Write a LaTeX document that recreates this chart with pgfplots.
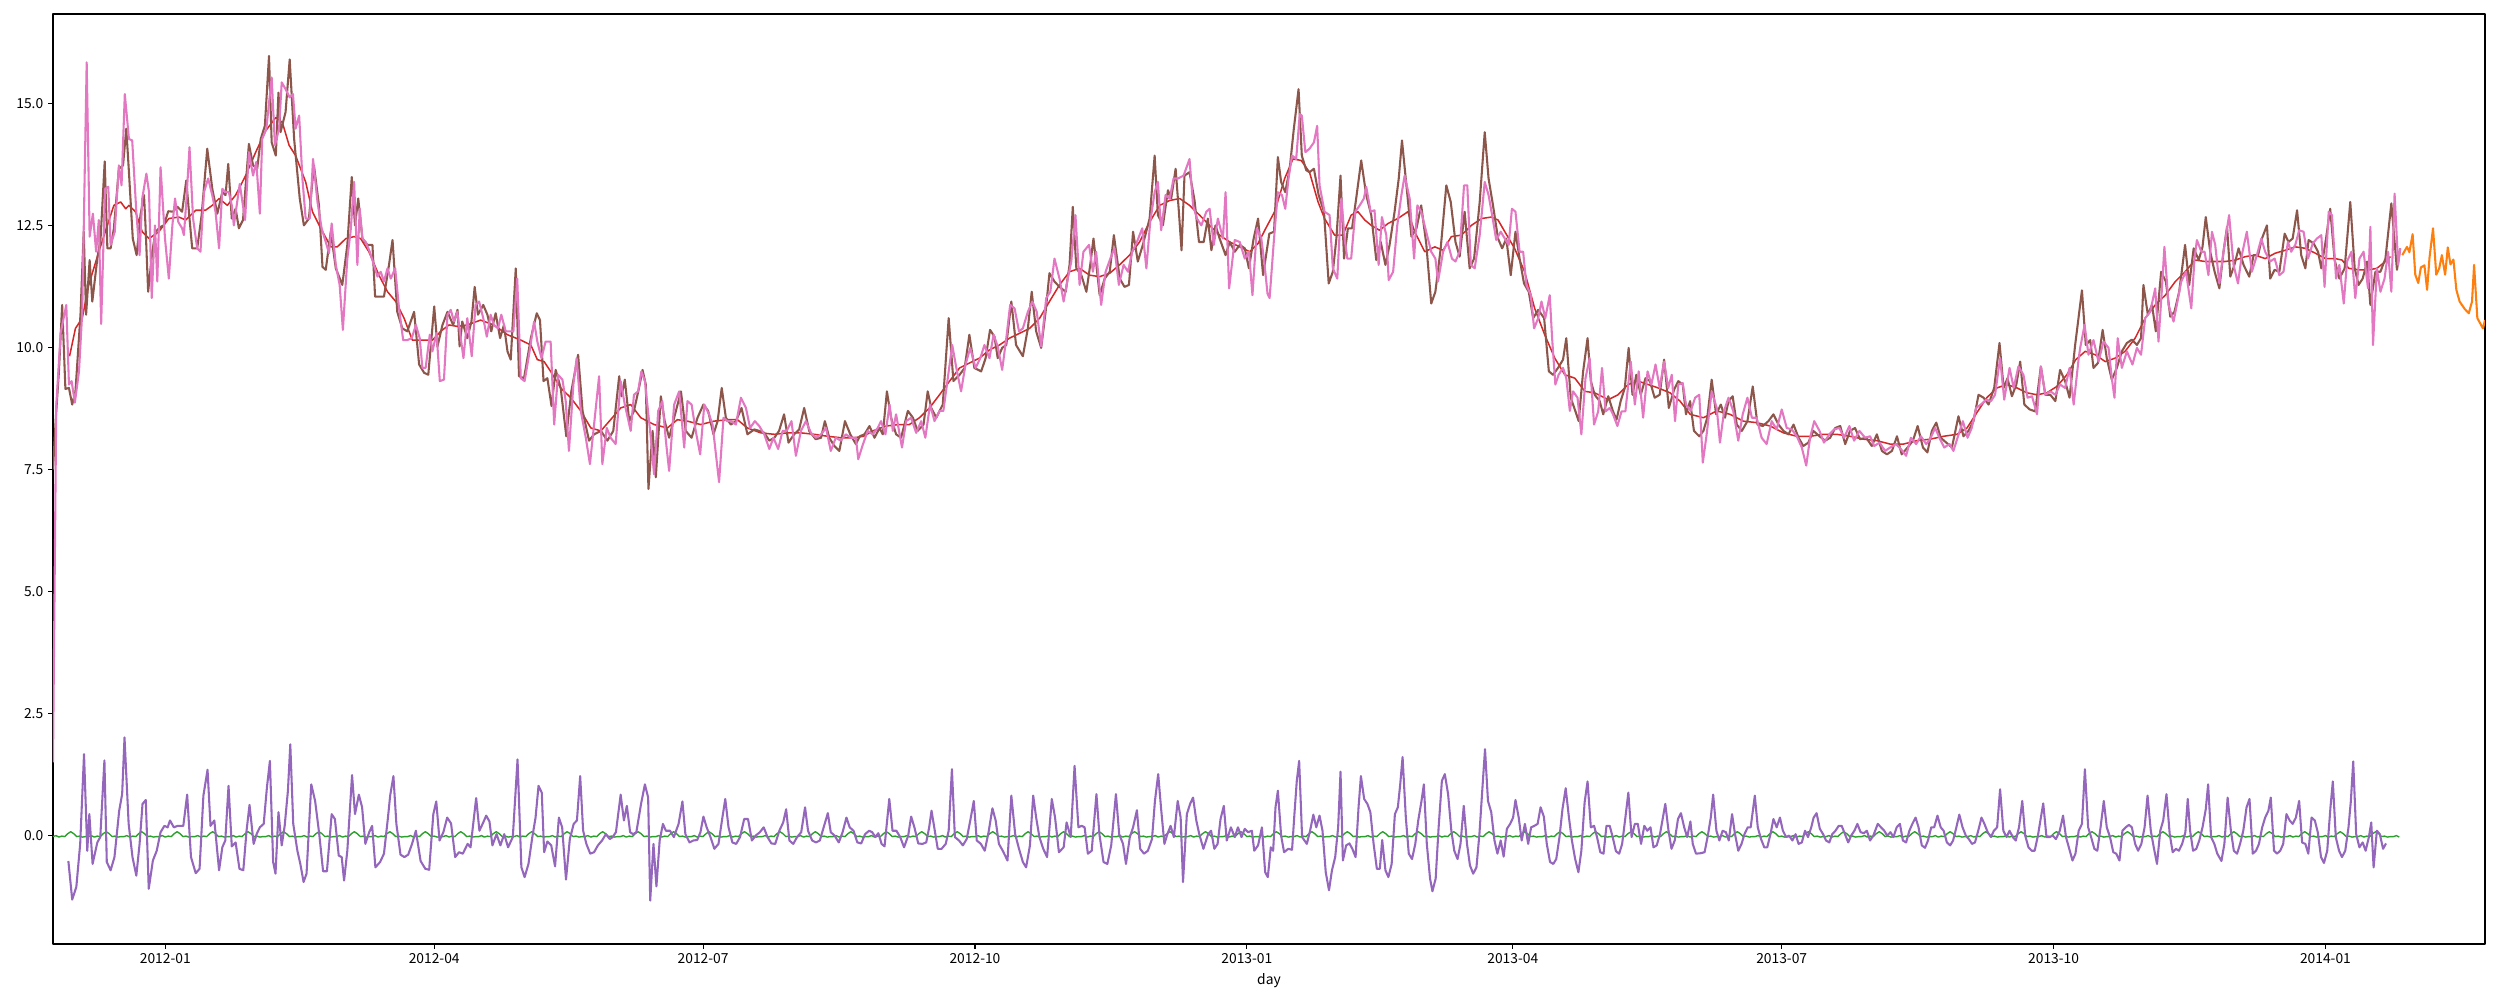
\documentclass[border=0pt]{standalone}
\usepackage{fontspec}
\setmainfont{Noto Sans CJK SC}
\usepackage{pgfplots}
\pgfplotsset{compat=1.18}
\usetikzlibrary{calc}
\definecolor{mbrown}{HTML}{8C564B}
\definecolor{mpink}{HTML}{E377C2}
\definecolor{mred}{HTML}{D62728}
\definecolor{mpurple}{HTML}{9467BD}
\definecolor{mgreen}{HTML}{2CA02C}
\definecolor{morange}{HTML}{FF7F0E}
\begin{document}
\begin{tikzpicture}
\begin{axis}[name=ax, scale only axis, width=24.32in, height=9.30in,
  xmin=-38, xmax=785, ymin=-2.22, ymax=16.83,
  axis line style={line width=0.8pt, black},
  tick style={line width=0.8pt, black}, major tick length=3.5pt, tick align=outside,
  xtick pos=bottom, ytick pos=left,
  xtick={0,91,182,274,366,456,547,639,731},
  xticklabels={2012-01,2012-04,2012-07,2012-10,2013-01,2013-04,2013-07,2013-10,2014-01},
  ytick={0,2.5,5,7.5,10,12.5,15},
  yticklabel style={/pgf/number format/.cd, fixed, fixed zerofill, precision=1},
  /pgf/number format/assume math mode=true,
  tick label style={font=\fontsize{10}{12}\selectfont},
  xlabel={day}, xlabel style={font=\fontsize{10}{12}\selectfont},
  line join=round, every axis plot/.append style={line join=round}]
% forecast
\addplot[morange, line width=1.5pt] coordinates {
(757,11.89) (758.6,12.06) (759.4,11.95) (760.5,12.32) (761.4,11.49) (762.4,11.32) (763.3,11.64) (764.5,11.68) (765.4,11.18) (766.2,11.83) (767.4,12.44) (768.5,11.49) (769.5,11.62) (770.4,11.89) (771.5,11.49) (772.4,12.05) (773.3,11.7) (774.3,11.8) (775.3,11.18) (776.4,10.94) (778.1,10.79) (779.5,10.7) (780.6,10.94) (781.3,11.69) (782.4,10.6) (784.3,10.39) (785,10.56)};
% seasonal
\addplot[mgreen, line width=1pt] table[row sep=\\, header=false, x expr=\coordindex-38, y index=0] {
-0.02\\0\\-0.03\\-0.01\\-0.02\\0.04\\0.08\\0.04\\-0.02\\-0.01\\-0.03\\-0.02\\
-0.02\\0\\-0.03\\-0.01\\-0.02\\0.04\\0.08\\0.04\\-0.02\\-0.01\\-0.03\\-0.02\\
-0.02\\0\\-0.03\\-0.01\\-0.02\\0.04\\0.08\\0.04\\-0.02\\-0.01\\-0.03\\-0.02\\
-0.02\\0\\-0.03\\-0.01\\-0.02\\0.04\\0.08\\0.04\\-0.02\\-0.01\\-0.03\\-0.02\\
-0.02\\0\\-0.03\\-0.01\\-0.02\\0.04\\0.08\\0.04\\-0.02\\-0.01\\-0.03\\-0.02\\
-0.02\\0\\-0.03\\-0.01\\-0.02\\0.04\\0.08\\0.04\\-0.02\\-0.01\\-0.03\\-0.02\\
-0.02\\0\\-0.03\\-0.01\\-0.02\\0.04\\0.08\\0.04\\-0.02\\-0.01\\-0.03\\-0.02\\
-0.02\\0\\-0.03\\-0.01\\-0.02\\0.04\\0.08\\0.04\\-0.02\\-0.01\\-0.03\\-0.02\\
-0.02\\0\\-0.03\\-0.01\\-0.02\\0.04\\0.08\\0.04\\-0.02\\-0.01\\-0.03\\-0.02\\
-0.02\\0\\-0.03\\-0.01\\-0.02\\0.04\\0.08\\0.04\\-0.02\\-0.01\\-0.03\\-0.02\\
-0.02\\0\\-0.03\\-0.01\\-0.02\\0.04\\0.08\\0.04\\-0.02\\-0.01\\-0.03\\-0.02\\
-0.02\\0\\-0.03\\-0.01\\-0.02\\0.04\\0.08\\0.04\\-0.02\\-0.01\\-0.03\\-0.02\\
-0.02\\0\\-0.03\\-0.01\\-0.02\\0.04\\0.08\\0.04\\-0.02\\-0.01\\-0.03\\-0.02\\
-0.02\\0\\-0.03\\-0.01\\-0.02\\0.04\\0.08\\0.04\\-0.02\\-0.01\\-0.03\\-0.02\\
-0.02\\0\\-0.03\\-0.01\\-0.02\\0.04\\0.08\\0.04\\-0.02\\-0.01\\-0.03\\-0.02\\
-0.02\\0\\-0.03\\-0.01\\-0.02\\0.04\\0.08\\0.04\\-0.02\\-0.01\\-0.03\\-0.02\\
-0.02\\0\\-0.03\\-0.01\\-0.02\\0.04\\0.08\\0.04\\-0.02\\-0.01\\-0.03\\-0.02\\
-0.02\\0\\-0.03\\-0.01\\-0.02\\0.04\\0.08\\0.04\\-0.02\\-0.01\\-0.03\\-0.02\\
-0.02\\0\\-0.03\\-0.01\\-0.02\\0.04\\0.08\\0.04\\-0.02\\-0.01\\-0.03\\-0.02\\
-0.02\\0\\-0.03\\-0.01\\-0.02\\0.04\\0.08\\0.04\\-0.02\\-0.01\\-0.03\\-0.02\\
-0.02\\0\\-0.03\\-0.01\\-0.02\\0.04\\0.08\\0.04\\-0.02\\-0.01\\-0.03\\-0.02\\
-0.02\\0\\-0.03\\-0.01\\-0.02\\0.04\\0.08\\0.04\\-0.02\\-0.01\\-0.03\\-0.02\\
-0.02\\0\\-0.03\\-0.01\\-0.02\\0.04\\0.08\\0.04\\-0.02\\-0.01\\-0.03\\-0.02\\
-0.02\\0\\-0.03\\-0.01\\-0.02\\0.04\\0.08\\0.04\\-0.02\\-0.01\\-0.03\\-0.02\\
-0.02\\0\\-0.03\\-0.01\\-0.02\\0.04\\0.08\\0.04\\-0.02\\-0.01\\-0.03\\-0.02\\
-0.02\\0\\-0.03\\-0.01\\-0.02\\0.04\\0.08\\0.04\\-0.02\\-0.01\\-0.03\\-0.02\\
-0.02\\0\\-0.03\\-0.01\\-0.02\\0.04\\0.08\\0.04\\-0.02\\-0.01\\-0.03\\-0.02\\
-0.02\\0\\-0.03\\-0.01\\-0.02\\0.04\\0.08\\0.04\\-0.02\\-0.01\\-0.03\\-0.02\\
-0.02\\0\\-0.03\\-0.01\\-0.02\\0.04\\0.08\\0.04\\-0.02\\-0.01\\-0.03\\-0.02\\
-0.02\\0\\-0.03\\-0.01\\-0.02\\0.04\\0.08\\0.04\\-0.02\\-0.01\\-0.03\\-0.02\\
-0.02\\0\\-0.03\\-0.01\\-0.02\\0.04\\0.08\\0.04\\-0.02\\-0.01\\-0.03\\-0.02\\
-0.02\\0\\-0.03\\-0.01\\-0.02\\0.04\\0.08\\0.04\\-0.02\\-0.01\\-0.03\\-0.02\\
-0.02\\0\\-0.03\\-0.01\\-0.02\\0.04\\0.08\\0.04\\-0.02\\-0.01\\-0.03\\-0.02\\
-0.02\\0\\-0.03\\-0.01\\-0.02\\0.04\\0.08\\0.04\\-0.02\\-0.01\\-0.03\\-0.02\\
-0.02\\0\\-0.03\\-0.01\\-0.02\\0.04\\0.08\\0.04\\-0.02\\-0.01\\-0.03\\-0.02\\
-0.02\\0\\-0.03\\-0.01\\-0.02\\0.04\\0.08\\0.04\\-0.02\\-0.01\\-0.03\\-0.02\\
-0.02\\0\\-0.03\\-0.01\\-0.02\\0.04\\0.08\\0.04\\-0.02\\-0.01\\-0.03\\-0.02\\
-0.02\\0\\-0.03\\-0.01\\-0.02\\0.04\\0.08\\0.04\\-0.02\\-0.01\\-0.03\\-0.02\\
-0.02\\0\\-0.03\\-0.01\\-0.02\\0.04\\0.08\\0.04\\-0.02\\-0.01\\-0.03\\-0.02\\
-0.02\\0\\-0.03\\-0.01\\-0.02\\0.04\\0.08\\0.04\\-0.02\\-0.01\\-0.03\\-0.02\\
-0.02\\0\\-0.03\\-0.01\\-0.02\\0.04\\0.08\\0.04\\-0.02\\-0.01\\-0.03\\-0.02\\
-0.02\\0\\-0.03\\-0.01\\-0.02\\0.04\\0.08\\0.04\\-0.02\\-0.01\\-0.03\\-0.02\\
-0.02\\0\\-0.03\\-0.01\\-0.02\\0.04\\0.08\\0.04\\-0.02\\-0.01\\-0.03\\-0.02\\
-0.02\\0\\-0.03\\-0.01\\-0.02\\0.04\\0.08\\0.04\\-0.02\\-0.01\\-0.03\\-0.02\\
-0.02\\0\\-0.03\\-0.01\\-0.02\\0.04\\0.08\\0.04\\-0.02\\-0.01\\-0.03\\-0.02\\
-0.02\\0\\-0.03\\-0.01\\-0.02\\0.04\\0.08\\0.04\\-0.02\\-0.01\\-0.03\\-0.02\\
-0.02\\0\\-0.03\\-0.01\\-0.02\\0.04\\0.08\\0.04\\-0.02\\-0.01\\-0.03\\-0.02\\
-0.02\\0\\-0.03\\-0.01\\-0.02\\0.04\\0.08\\0.04\\-0.02\\-0.01\\-0.03\\-0.02\\
-0.02\\0\\-0.03\\-0.01\\-0.02\\0.04\\0.08\\0.04\\-0.02\\-0.01\\-0.03\\-0.02\\
-0.02\\0\\-0.03\\-0.01\\-0.02\\0.04\\0.08\\0.04\\-0.02\\-0.01\\-0.03\\-0.02\\
-0.02\\0\\-0.03\\-0.01\\-0.02\\0.04\\0.08\\0.04\\-0.02\\-0.01\\-0.03\\-0.02\\
-0.02\\0\\-0.03\\-0.01\\-0.02\\0.04\\0.08\\0.04\\-0.02\\-0.01\\-0.03\\-0.02\\
-0.02\\0\\-0.03\\-0.01\\-0.02\\0.04\\0.08\\0.04\\-0.02\\-0.01\\-0.03\\-0.02\\
-0.02\\0\\-0.03\\-0.01\\-0.02\\0.04\\0.08\\0.04\\-0.02\\-0.01\\-0.03\\-0.02\\
-0.02\\0\\-0.03\\-0.01\\-0.02\\0.04\\0.08\\0.04\\-0.02\\-0.01\\-0.03\\-0.02\\
-0.02\\0\\-0.03\\-0.01\\-0.02\\0.04\\0.08\\0.04\\-0.02\\-0.01\\-0.03\\-0.02\\
-0.02\\0\\-0.03\\-0.01\\-0.02\\0.04\\0.08\\0.04\\-0.02\\-0.01\\-0.03\\-0.02\\
-0.02\\0\\-0.03\\-0.01\\-0.02\\0.04\\0.08\\0.04\\-0.02\\-0.01\\-0.03\\-0.02\\
-0.02\\0\\-0.03\\-0.01\\-0.02\\0.04\\0.08\\0.04\\-0.02\\-0.01\\-0.03\\-0.02\\
-0.02\\0\\-0.03\\-0.01\\-0.02\\0.04\\0.08\\0.04\\-0.02\\-0.01\\-0.03\\-0.02\\
-0.02\\0\\-0.03\\-0.01\\-0.02\\0.04\\0.08\\0.04\\-0.02\\-0.01\\-0.03\\-0.02\\
-0.02\\0\\-0.03\\-0.01\\-0.02\\0.04\\0.08\\0.04\\-0.02\\-0.01\\-0.03\\-0.02\\
-0.02\\0\\-0.03\\-0.01\\-0.02\\0.04\\0.08\\0.04\\-0.02\\-0.01\\-0.03\\-0.02\\
-0.02\\0\\-0.03\\-0.01\\-0.02\\0.04\\0.08\\0.04\\-0.02\\-0.01\\-0.03\\-0.02\\
-0.02\\0\\-0.03\\-0.01\\-0.02\\0.04\\0.08\\0.04\\-0.02\\-0.01\\-0.03\\-0.02\\
-0.02\\0\\-0.03\\-0.01\\-0.02\\0.04\\0.08\\0.04\\-0.02\\-0.01\\-0.03\\-0.02\\
-0.02\\0\\-0.03\\
};
% trend
\addplot[mred, line width=1.1pt] coordinates {
(-32.4,9.82) (-30.4,10.39) (-28.1,10.6) (-25.9,11.28) (-22.5,11.96) (-19.6,12.5) (-17.4,12.91) (-15.1,12.98) (-13.4,12.84) (-12.3,12.91) (-10.1,12.78) (-7.8,12.37) (-5.5,12.23) (-2.2,12.37) (1.2,12.64) (4.6,12.67) (6.9,12.61) (10.3,12.81) (13.6,12.81) (15.9,12.91) (18.2,13.05) (21.0,12.91) (23.8,13.12) (27.2,13.52) (30.6,14.0) (34.0,14.44) (37.4,14.71) (39.6,14.61) (41.9,14.14) (44.1,13.93) (47.5,13.39) (49.8,12.78) (52.6,12.44) (56.0,12.06) (58.2,12.06) (61.1,12.23) (63.9,12.27) (66.1,12.23) (68.9,11.96) (72.3,11.48) (75.2,11.14) (78.0,10.94) (80.8,10.6) (83.6,10.15) (87.0,10.15) (90.4,10.15) (93.2,10.33) (96.0,10.46) (98.9,10.43) (102.2,10.46) (106.7,10.56) (111.2,10.46) (115.8,10.26) (120.3,10.15) (123.7,10.05) (125.9,9.75) (128.2,9.71) (130.4,9.51) (133.8,9.17) (137.2,8.97) (140.6,8.7) (144.0,8.35) (147.4,8.29) (150.7,8.52) (154.1,8.76) (157.5,8.83) (160.9,8.56) (165.4,8.42) (169.9,8.35) (173.3,8.52) (176.7,8.49) (181.2,8.42) (185.7,8.49) (190.3,8.52) (193.6,8.52) (197.0,8.35) (201.5,8.25) (206.1,8.22) (210.6,8.25) (215.1,8.25) (219.6,8.22) (224.1,8.18) (228.6,8.15) (233.1,8.15) (236.3,8.18) (239.4,8.29) (243.9,8.39) (248.4,8.42) (251.8,8.42) (255.2,8.56) (258.6,8.76) (262.0,9.03) (265.4,9.31) (268.8,9.58) (272.1,9.68) (275.5,9.78) (278.9,9.95) (282.3,10.05) (285.7,10.19) (289.1,10.29) (292.5,10.39) (295.9,10.6) (299.2,10.94) (302.6,11.28) (306.0,11.55) (309.4,11.62) (312.8,11.48) (316.2,11.45) (319.6,11.52) (322.9,11.69) (326.3,11.89) (329.7,12.16) (333.1,12.57) (336.5,12.91) (339.9,13.01) (343.3,13.05) (346.6,12.91) (350.0,12.71) (353.4,12.5) (356.8,12.3) (360.2,12.16) (363.6,12.06) (367.0,11.96) (369.8,12.13) (372.5,12.45) (375.4,12.78) (378.8,13.46) (381.6,13.86) (384.4,13.83) (387.2,13.59) (390.1,12.98) (392.3,12.64) (395.7,12.3) (398.5,12.3) (401.3,12.71) (403.6,12.78) (405.9,12.61) (408.1,12.5) (410.9,12.4) (413.8,12.54) (417.1,12.64) (420.5,12.78) (422.8,12.37) (426.2,11.96) (429.6,12.06) (432.4,11.99) (435.2,12.27) (438.6,12.3) (442.0,12.5) (445.4,12.64) (448.7,12.67) (451.0,12.61) (453.3,12.37) (456.6,12.03) (460.0,11.55) (463.4,10.8) (466.8,10.26) (470.2,9.78) (473.6,9.44) (477.0,9.37) (480.4,9.1) (483.7,9.07) (488.3,8.93) (491.6,9.03) (495.0,9.24) (498.4,9.31) (501.8,9.24) (505.2,9.17) (509.2,9.07) (512.6,8.9) (516.0,8.63) (520.5,8.56) (525.0,8.7) (529.5,8.63) (534.0,8.49) (538.5,8.46) (543.1,8.39) (547.6,8.25) (552.1,8.18) (556.6,8.18) (561.1,8.22) (565.6,8.22) (570.1,8.18) (574.7,8.12) (579.2,8.09) (583.7,8.02) (588.2,8.02) (592.7,8.09) (597.2,8.12) (601.8,8.18) (606.3,8.22) (609.7,8.35) (613.0,8.66) (616.4,8.97) (619.8,9.17) (623.2,9.24) (626.6,9.17) (630.0,9.07) (633.4,9.03) (636.7,9.07) (640.1,9.2) (643.5,9.44) (646.5,9.75) (649.7,9.92) (653.1,9.85) (656.5,9.71) (659.8,9.78) (663.2,9.92) (666.6,10.19) (670.0,10.6) (673.4,10.87) (676.8,11.07) (680.2,11.35) (683.5,11.55) (686.9,11.79) (690.3,11.76) (693.7,11.76) (697.1,11.76) (700.5,11.79) (703.9,11.86) (707.2,11.89) (710.6,11.82) (714.0,11.93) (717.4,11.99) (720.8,12.06) (724.2,12.03) (727.6,11.93) (731.0,11.82) (734.3,11.82) (736.6,11.79) (738.9,11.62) (742.2,11.59) (745.7,11.59) (748.4,11.62) (751.3,11.76) (753.0,11.86)};
% residual
\addplot[mpurple, line width=1.5pt] coordinates {
(-32.8,-0.52) (-31.5,-1.31) (-30.1,-1.05) (-28.8,-0.17) (-27.5,1.67) (-26.4,-0.31) (-25.7,0.44) (-24.6,-0.58) (-23.0,-0.14) (-22.0,-0.03) (-20.6,1.54) (-19.8,-0.54) (-18.5,-0.71) (-17.2,-0.44) (-15.6,0.51) (-14.6,0.85) (-13.8,2.01) (-12.4,0.24) (-11.1,-0.44) (-9.8,-0.82) (-8.7,-0.17) (-7.7,0.65) (-6.6,0.73) (-5.6,-1.09) (-4.2,-0.51) (-2.9,-0.31) (-1.6,0.07) (-0.3,0.2) (0.8,0.17) (1.6,0.31) (2.9,0.17) (4.2,0.2) (6.1,0.2) (7.4,0.84) (8.7,-0.44) (10.3,-0.77) (11.6,-0.68) (12.9,0.82) (14.3,1.35) (15.3,0.2) (16.6,0.31) (18.2,-0.71) (19.3,-0.24) (20.3,-0.1) (21.4,1.02) (22.5,-0.22) (23.8,-0.14) (25.1,-0.68) (26.4,-0.71) (27.5,0.1) (28.5,0.63) (29.9,-0.17) (30.9,0.03) (32.0,0.17) (33.3,0.24) (34.4,0.99) (35.4,1.53) (36.5,-0.54) (37.3,-0.78) (38.3,0.48) (39.4,-0.2) (40.4,0.2) (41.5,0.92) (42.3,1.87) (43.3,0.24) (44.7,-0.31) (45.7,-0.58) (46.8,-0.95) (47.8,-0.78) (49.4,1.05) (50.7,0.71) (52.1,0.03) (53.4,-0.73) (54.7,-0.73) (56.3,0.44) (57.4,0.34) (58.7,-0.41) (59.7,-0.44) (60.5,-0.92) (61.6,-0.31) (63.2,1.24) (64.2,0.44) (65.5,0.84) (66.6,0.58) (67.7,-0.17) (69.0,0.07) (70.0,0.2) (71.1,-0.65) (72.7,-0.54) (74.0,-0.37) (75.3,0.34) (76.1,0.82) (77.2,1.22) (78.2,0.24) (79.6,-0.39) (80.9,-0.44) (82.2,-0.39) (83.5,-0.17) (84.8,0.1) (86.4,-0.52) (88.0,-0.68) (89.3,-0.7) (90.7,0.44) (91.7,0.7) (92.8,-0.1) (94.1,0.07) (95.4,0.37) (96.7,0.25) (98.1,-0.44) (99.4,-0.34) (100.7,-0.37) (102.3,-0.17) (103.3,-0.24) (105.2,0.77) (106.3,0.1) (107.6,0.27) (108.6,0.41) (109.7,0.29) (110.7,-0.2) (112.1,0.03) (113.4,-0.2) (114.7,0.03) (116.0,-0.24) (117.6,-0.03) (119.2,1.56) (120.5,-0.65) (121.6,-0.85) (122.9,-0.58) (124.2,-0.03) (125.3,0.37) (126.3,1.02) (127.4,0.88) (128.2,-0.34) (129.3,-0.12) (130.6,-0.2) (131.9,-0.63) (133.2,0.37) (134.3,0.17) (135.6,-0.9) (136.9,-0.07) (138.2,0.24) (139.3,0.31) (140.4,1.22) (141.4,0.1) (142.5,-0.17) (143.8,-0.37) (145.1,-0.34) (146.4,-0.2) (147.8,-0.1) (149.1,0.03) (150.4,-0.07) (151.4,-0.03) (152.5,0.07) (154.1,0.84) (155.2,0.31) (156.2,0.61) (157.3,0.07) (158.3,0.03) (159.4,0.07) (161.0,0.65) (162.3,1.05) (163.4,0.78) (164.1,-1.33) (165.2,-0.17) (166.2,-1.04) (167.3,-0.1) (168.4,0.24) (169.4,0.1) (170.8,0.1) (172.1,-0.03) (173.7,0.24) (175.0,0.7) (176.0,0.03) (177.4,-0.14) (178.7,-0.1) (180.0,-0.09) (181.1,0.07) (182.1,0.39) (183.2,0.17) (184.5,-0.03) (185.8,-0.27) (187.2,-0.17) (188.5,0.36) (189.5,0.75) (190.6,0.17) (191.9,-0.14) (193.2,-0.17) (194.5,-0.03) (195.9,0.34) (197.2,0.34) (198.5,-0.1) (199.8,0.0) (201.2,0.07) (202.5,0.17) (203.8,-0.03) (205.1,-0.16) (206.4,-0.17) (207.8,0.1) (209.1,0.27) (210.1,0.54) (211.2,-0.1) (212.5,-0.17) (213.8,-0.03) (215.2,0.07) (216.5,0.58) (217.5,0.1) (218.9,-0.1) (220.2,-0.14) (221.5,-0.1) (222.8,0.17) (224.2,0.46) (225.2,0.07) (226.5,0.0) (227.9,-0.14) (229.2,0.07) (230.5,0.37) (231.6,0.17) (232.9,0.1) (234.2,-0.14) (235.5,-0.16) (236.8,0.03) (238.2,0.1) (239.2,0.07) (240.3,-0.03) (241.3,0.05) (242.4,-0.17) (243.4,-0.22) (245.0,0.75) (246.1,0.1) (247.4,0.1) (248.7,-0.03) (250.0,-0.24) (251.4,0.0) (252.4,0.39) (253.5,0.17) (254.8,-0.16) (256.2,-0.17) (257.5,-0.14) (258.5,0.17) (259.3,0.51) (260.4,0.1) (261.4,-0.27) (262.7,-0.27) (264.1,-0.17) (265.1,0.1) (266.2,1.36) (267.2,-0.03) (268.6,-0.1) (269.9,-0.2) (271.2,-0.07) (272.5,0.34) (273.6,0.71) (274.6,-0.1) (276.0,-0.17) (277.3,-0.31) (278.6,0.07) (279.9,0.56) (281.0,0.31) (282.1,-0.17) (283.4,-0.31) (285.0,-0.51) (286.3,0.82) (287.6,0.03) (288.9,-0.27) (290.2,-0.54) (291.3,-0.65) (292.6,-0.2) (293.7,0.82) (294.7,0.37) (295.8,-0.03) (297.1,-0.27) (298.4,-0.44) (300.0,0.75) (301.1,0.37) (302.4,-0.34) (304.0,-0.24) (305.0,0.27) (306.4,-0.03) (307.7,1.43) (309.0,0.17) (310.1,0.2) (311.1,0.17) (312.2,-0.37) (313.5,-0.31) (315.1,0.85) (316.1,0.03) (317.5,-0.54) (318.8,-0.58) (320.1,-0.2) (321.7,0.85) (322.8,0.03) (324.1,-0.17) (325.1,-0.58) (326.4,-0.03) (327.5,0.17) (328.8,0.52) (329.9,-0.27) (331.2,-0.37) (332.5,-0.31) (333.9,-0.07) (334.9,0.71) (336.0,1.26) (337.0,0.54) (338.1,-0.17) (339.1,0.03) (340.2,0.2) (341.3,-0.03) (342.6,0.71) (343.6,0.37) (344.4,-0.95) (345.7,0.44) (346.8,0.65) (347.8,0.78) (348.9,0.31) (349.9,0.03) (351.3,-0.27) (352.9,0.03) (353.9,0.1) (355.0,-0.27) (356.1,-0.17) (357.1,0.34) (358.2,0.61) (359.2,-0.1) (360.6,0.17) (361.9,-0.03) (363.0,0.17) (364.2,-0.03) (365.3,0.14) (366.4,0.07) (367.7,0.1) (368.5,-0.31) (369.8,-0.2) (371.1,0.17) (372.2,-0.75) (373.1,-0.85) (374.1,-0.24) (374.9,-0.31) (375.7,0.58) (376.5,0.92) (377.6,0.0) (378.6,-0.34) (380.0,-0.27) (381.3,-0.29) (382.1,0.44) (382.9,1.12) (383.7,1.53) (384.7,-0.03) (386.3,-0.17) (387.4,0.1) (388.5,0.43) (389.5,0.17) (390.6,0.41) (391.6,0.1) (392.7,-0.75) (393.8,-1.12) (394.8,-0.71) (395.9,-0.44) (396.9,0.17) (397.7,1.31) (398.5,-0.51) (399.6,-0.2) (400.7,-0.16) (401.7,-0.27) (402.8,-0.44) (403.8,0.58) (404.6,1.22) (405.7,0.75) (406.8,0.65) (407.8,0.48) (408.9,-0.17) (410.0,-0.68) (411.0,-0.68) (411.8,-0.09) (412.9,-0.71) (413.9,-0.85) (415.0,-0.58) (416.1,0.44) (417.1,0.58) (417.9,1.05) (418.7,1.61) (419.8,0.37) (420.8,-0.37) (421.9,-0.48) (423.0,-0.17) (424.0,0.31) (425.1,0.71) (425.9,1.05) (426.9,-0.17) (428.0,-0.88) (428.8,-1.14) (429.9,-0.88) (430.9,0.17) (432.0,1.12) (433.0,1.26) (434.1,0.85) (435.2,0.1) (436.2,-0.31) (437.3,-0.48) (438.3,-0.17) (439.4,0.61) (440.5,-0.17) (441.5,-0.61) (442.6,-0.78) (443.7,-0.65) (444.7,0.03) (445.8,1.05) (446.6,1.77) (447.6,0.71) (448.7,0.48) (449.8,-0.1) (450.8,-0.37) (451.9,-0.1) (452.9,-0.43) (454.0,0.14) (455.1,0.24) (456.1,0.37) (456.9,0.73) (458.0,0.37) (459.0,-0.1) (460.1,0.24) (461.2,-0.17) (462.2,0.17) (463.3,0.2) (464.4,0.24) (465.4,0.58) (466.5,0.39) (467.5,-0.17) (468.6,-0.54) (469.7,-0.58) (470.7,-0.48) (471.8,-0.03) (472.8,0.54) (473.9,0.97) (475.0,0.37) (476.0,-0.1) (477.1,-0.48) (478.2,-0.75) (479.2,-0.31) (480.3,0.68) (481.3,1.11) (482.4,0.17) (483.5,0.2) (484.5,-0.03) (485.6,-0.34) (486.7,-0.37) (487.7,0.2) (488.8,0.2) (489.8,-0.03) (490.9,-0.32) (492.0,-0.37) (493.0,-0.17) (494.1,0.37) (495.1,0.88) (496.2,-0.03) (497.3,0.24) (498.3,0.24) (499.4,-0.17) (500.5,0.2) (501.5,0.1) (502.6,0.17) (503.6,-0.24) (504.7,-0.2) (505.8,0.03) (506.8,0.37) (507.6,0.65) (508.7,0.1) (509.7,-0.27) (510.8,-0.1) (511.9,0.34) (512.9,0.46) (514.0,0.17) (515.0,-0.03) (516.1,0.29) (516.9,-0.17) (518.0,-0.37) (519.6,-0.36) (520.9,-0.34) (522.0,0.0) (523.0,0.37) (523.8,0.84) (524.9,0.1) (525.9,-0.1) (527.0,0.1) (528.1,0.07) (529.1,-0.1) (530.2,0.44) (531.2,0.03) (532.3,-0.31) (533.4,-0.17) (534.4,0.03) (535.5,0.17) (536.5,0.17) (537.9,0.82) (538.9,0.17) (540.0,-0.07) (541.1,-0.24) (542.1,-0.24) (543.2,0.03) (544.2,0.34) (545.3,0.17) (546.4,0.37) (547.4,0.1) (548.5,-0.03) (549.5,0.0) (550.6,-0.1) (551.7,0.03) (552.7,-0.17) (553.8,-0.14) (554.9,0.1) (555.9,-0.03) (557.0,0.17) (557.8,0.37) (558.8,0.46) (559.9,0.14) (561.0,0.03) (562.0,-0.1) (563.1,-0.14) (564.1,0.03) (565.2,0.1) (566.3,0.2) (567.3,0.2) (568.4,0.03) (569.5,-0.14) (570.5,0.0) (571.6,0.1) (572.6,0.24) (573.7,0.07) (574.8,0.05) (575.8,0.1) (576.9,-0.1) (578.0,0.0) (579.5,0.24) (580.6,0.17) (581.7,0.1) (582.7,0.0) (583.8,0.07) (584.8,-0.03) (585.9,0.17) (587.0,0.24) (588.0,-0.1) (589.1,-0.14) (590.2,0.1) (591.2,0.24) (592.3,0.37) (593.3,0.17) (594.4,-0.2) (595.5,-0.25) (596.5,-0.1) (597.6,0.17) (598.6,0.17) (599.7,0.41) (600.8,0.17) (601.8,0.1) (602.9,-0.14) (604.0,-0.2) (605.0,-0.1) (606.1,0.17) (607.1,0.43) (608.2,0.17) (609.3,0.0) (610.3,-0.07) (611.4,-0.17) (612.4,-0.14) (613.5,0.1) (614.6,0.37) (615.6,0.24) (616.7,0.07) (617.8,-0.03) (618.8,0.1) (619.9,0.17) (620.9,0.95) (622.0,0.1) (623.1,-0.03) (624.1,0.1) (625.2,-0.03) (626.2,-0.1) (627.3,0.17) (628.4,0.71) (629.4,0.0) (630.5,-0.24) (631.6,-0.31) (632.6,-0.31) (633.7,0.0) (634.7,0.37) (635.5,0.66) (636.6,-0.03) (637.7,-0.03) (638.7,0.0) (639.8,-0.07) (641.1,0.1) (642.2,0.41) (643.2,-0.03) (644.3,-0.27) (645.4,-0.51) (646.4,-0.37) (647.5,0.1) (648.6,0.24) (649.6,1.36) (650.7,0.17) (651.7,-0.03) (652.8,-0.27) (653.8,-0.31) (654.9,0.17) (656.0,0.71) (657.0,0.17) (658.1,-0.03) (659.2,-0.34) (660.2,-0.37) (661.3,-0.51) (662.3,0.1) (663.4,0.17) (664.5,0.22) (665.5,0.17) (666.6,-0.17) (667.6,-0.31) (668.7,-0.17) (669.8,0.17) (670.8,0.82) (671.9,0.1) (672.9,-0.24) (674.0,-0.58) (675.1,0.1) (676.1,0.31) (677.2,0.85) (678.3,0.03) (679.3,-0.34) (680.4,-0.27) (681.4,-0.31) (682.5,-0.17) (683.6,0.07) (684.4,0.75) (685.2,0.1) (686.2,-0.31) (687.3,-0.27) (688.3,-0.1) (689.4,0.17) (690.5,0.54) (691.3,1.05) (692.3,-0.03) (693.4,-0.17) (694.4,-0.37) (695.8,-0.52) (696.8,-0.17) (697.9,0.78) (699.0,0.1) (700.0,-0.31) (701.1,-0.37) (702.1,-0.17) (703.2,0.1) (704.3,0.58) (705.3,0.75) (706.4,-0.37) (707.5,-0.31) (708.5,-0.17) (709.6,0.17) (710.6,0.37) (711.7,0.51) (712.5,0.78) (713.6,-0.31) (714.6,-0.37) (715.7,-0.31) (716.7,-0.17) (717.8,0.44) (718.9,0.31) (719.9,0.24) (721.0,0.37) (722.1,0.71) (723.1,-0.14) (724.2,-0.17) (725.2,-0.37) (726.3,0.37) (727.4,0.31) (728.4,0.07) (729.5,-0.44) (730.5,-0.56) (731.6,-0.31) (732.7,0.58) (733.5,1.11) (734.5,-0.03) (735.6,-0.31) (736.6,-0.44) (737.7,-0.31) (738.8,0.17) (739.6,0.71) (740.4,1.52) (741.4,0.03) (742.5,-0.24) (743.6,-0.14) (744.6,-0.31) (745.7,-0.03) (746.5,0.27) (747.3,-0.65) (748.4,0.1) (749.4,0.03) (750.5,-0.27) (751.5,-0.16)};
% observed
\addplot[mbrown, line width=1.5pt] coordinates {
(-38,7.5) (-37,8.6) (-36,9.5) (-34.9,10.87) (-33.8,9.15) (-32.6,9.17) (-31.5,8.83) (-30.4,9.1) (-28.7,10.67) (-27.6,12.37) (-26.8,10.67) (-25.6,11.79) (-24.7,10.94) (-23.0,11.82) (-21.9,12.23) (-20.5,13.81) (-19.6,12.03) (-18.5,12.03) (-17.4,12.44) (-15.7,13.66) (-14.3,13.73) (-13.2,14.48) (-12.3,13.59) (-11.0,12.23) (-9.7,11.89) (-8.4,12.71) (-7.2,13.12) (-6.7,12.5) (-5.8,11.14) (-4.4,11.96) (-3.3,12.37) (-1.6,12.47) (-0.5,12.5) (1.0,12.79) (2.6,12.78) (4.1,12.88) (5.7,12.78) (7.1,13.42) (8.2,12.64) (9.1,12.03) (10.8,12.03) (12.3,12.71) (14.2,14.07) (15.9,13.25) (17.6,12.74) (19.3,13.18) (20.4,13.12) (21.3,13.76) (22.5,12.64) (23.8,12.84) (24.9,12.44) (26.3,12.61) (27.2,13.32) (28.3,14.17) (29.7,13.73) (31.1,13.66) (32.3,14.27) (33.7,14.54) (35.1,15.97) (36.0,14.2) (37.4,13.93) (38.3,15.22) (39.0,14.41) (40.7,14.82) (42.1,15.9) (43.6,14.27) (45.5,13.05) (46.9,12.5) (48.6,12.64) (50.3,13.73) (52.0,12.91) (53.2,11.65) (54.3,11.59) (56.0,12.37) (57.7,11.62) (59.9,11.28) (61.6,12.1) (63.1,13.49) (64.2,12.5) (65.3,13.05) (66.7,12.23) (68.4,12.1) (70.1,12.1) (71.0,11.04) (74.0,11.04) (75.7,11.69) (76.9,12.2) (78.5,10.73) (80.2,10.39) (81.9,10.33) (84.2,10.73) (85.9,9.65) (87.6,9.48) (89.0,9.44) (91.0,10.84) (92.1,10.02) (93.8,10.46) (95.5,10.73) (97.4,10.46) (98.9,10.77) (99.6,10.02) (100.5,10.53) (102.2,10.19) (103.6,10.53) (104.7,11.24) (105.8,10.67) (107.6,10.87) (109.0,10.67) (110.3,10.33) (111.8,10.7) (113.3,10.19) (114.6,10.46) (115.8,9.92) (116.9,9.75) (118.6,11.62) (119.7,9.41) (121.4,9.37) (123.7,10.19) (125.7,10.7) (126.8,10.56) (128.0,9.31) (129.3,9.37) (130.7,8.8) (132.1,9.54) (133.8,9.17) (135.7,8.18) (137.4,9.1) (139.7,9.85) (141.2,8.7) (143.4,8.09) (145.1,8.22) (147.4,8.29) (149.6,8.09) (151.6,8.29) (153.6,9.41) (154.4,9.0) (155.5,9.34) (157.0,8.49) (158.6,8.7) (160.3,9.17) (161.5,9.54) (162.6,9.24) (163.5,7.1) (164.9,8.29) (166.0,7.34) (167.7,9.0) (169.0,8.49) (170.5,8.15) (172.2,8.56) (174.5,9.1) (176.1,8.29) (178.1,8.15) (180.1,8.56) (182.1,8.83) (183.7,8.7) (185.5,8.22) (186.9,8.49) (188.3,9.17) (189.7,8.56) (191.4,8.42) (193.1,8.49) (195.0,8.76) (197.0,8.22) (199.3,8.32) (201.0,8.29) (202.7,8.25) (204.4,8.09) (206.1,8.15) (207.7,8.29) (209.4,8.63) (210.9,8.05) (212.8,8.22) (214.5,8.32) (216.2,8.76) (217.9,8.29) (220.1,8.12) (221.9,8.15) (223.2,8.49) (224.7,8.15) (226.4,7.98) (228.1,7.88) (230.0,8.49) (231.8,8.22) (233.7,8.02) (235.0,8.18) (236.6,8.22) (238.3,8.39) (240.0,8.15) (241.7,8.35) (242.8,8.22) (244.2,9.1) (245.6,8.56) (247.3,8.22) (249.0,8.15) (251.3,8.7) (253.0,8.56) (254.6,8.29) (256.6,8.42) (258.0,9.1) (259.2,8.76) (260.9,8.56) (263.1,8.83) (265.1,10.6) (266.7,9.31) (268.8,9.44) (270.5,9.58) (272.1,10.26) (273.8,9.58) (276.1,9.51) (277.6,9.78) (279.1,10.36) (280.6,10.22) (281.7,9.78) (283.2,9.99) (284.6,10.05) (286.3,10.94) (287.9,10.05) (290.2,9.82) (291.9,10.39) (293.2,11.14) (294.7,10.33) (296.4,9.99) (297.9,10.73) (299.2,11.52) (300.9,11.35) (302.6,11.24) (304.7,11.14) (306.0,11.69) (307.1,12.88) (308.3,11.62) (310.0,11.48) (311.7,11.14) (313.0,11.69) (314.1,12.23) (316.2,11.07) (317.9,11.41) (319.6,11.55) (321.0,12.3) (323.0,11.41) (324.6,11.24) (326.1,11.28) (327.5,12.37) (329.1,11.76) (330.8,12.1) (333.1,12.64) (334.8,13.93) (335.9,12.71) (337.6,12.5) (339.3,13.22) (340.4,13.05) (341.9,13.66) (343.0,12.78) (343.9,11.99) (344.9,13.52) (346.6,13.59) (348.3,13.01) (349.8,12.16) (351.4,12.16) (352.8,12.64) (354.0,11.99) (355.4,12.5) (356.8,12.23) (358.8,11.89) (360.2,12.16) (361.9,11.96) (363.6,12.1) (365.3,12.03) (366.7,11.62) (368.3,12.23) (369.8,12.64) (371.5,11.48) (373.6,12.33) (375.2,12.37) (376.5,13.9) (377.6,13.39) (379.0,13.18) (380.5,13.66) (381.9,14.48) (383.5,15.29) (384.6,13.93) (386.1,13.63) (387.2,13.59) (388.7,13.66) (390.3,13.12) (392.1,12.78) (393.7,11.31) (395.1,11.55) (396.3,12.23) (397.7,13.52) (398.9,11.82) (400.2,12.44) (401.6,12.44) (403.0,13.05) (404.7,13.83) (406.4,13.12) (408.1,12.71) (409.8,11.79) (411.3,12.16) (412.9,11.69) (414.3,12.1) (416.0,12.78) (417.4,13.46) (418.5,14.24) (420.0,13.32) (421.7,12.27) (423.4,12.44) (425.0,12.91) (426.7,12.13) (428.4,10.9) (429.8,11.14) (431.6,12.03) (433.5,13.32) (435.0,12.98) (436.6,12.16) (438.0,11.86) (439.7,12.78) (441.4,11.62) (442.9,11.82) (444.8,12.98) (446.5,14.41) (447.8,13.46) (449.3,12.91) (451.0,12.23) (452.4,12.03) (453.8,12.23) (455.3,11.48) (456.9,12.37) (458.3,11.82) (459.8,11.31) (461.4,11.14) (462.9,10.6) (464.6,10.77) (466.6,10.6) (468.2,9.51) (469.6,9.44) (471.3,9.58) (473.0,9.75) (474.1,10.19) (475.6,8.97) (477.2,8.69) (478.3,8.49) (479.8,9.51) (481.3,10.19) (482.4,9.31) (483.7,9.03) (485.4,8.9) (486.6,8.63) (488.3,9.0) (489.9,8.69) (491.1,8.52) (492.5,8.9) (493.9,9.17) (495.2,9.99) (496.5,9.03) (497.8,9.44) (499.3,9.03) (500.9,9.37) (502.4,9.31) (504.0,8.97) (505.7,9.03) (507.2,9.75) (508.8,8.76) (510.6,9.14) (512.0,9.31) (513.5,9.24) (514.6,8.63) (516.0,8.9) (517.3,8.29) (519.1,8.18) (520.5,8.29) (521.8,8.56) (523.3,9.34) (524.8,8.63) (526.4,8.83) (527.8,8.56) (529.0,8.9) (530.4,9.0) (531.8,8.42) (533.5,8.29) (535.4,8.49) (537.2,9.2) (538.8,8.42) (540.6,8.39) (542.5,8.49) (544.2,8.63) (545.9,8.42) (547.6,8.29) (549.3,8.22) (551.0,8.42) (552.7,8.15) (554.3,7.98) (556.0,8.05) (557.7,8.29) (559.8,8.18) (561.7,8.09) (563.4,8.15) (565.1,8.35) (566.8,8.39) (568.5,8.02) (570.1,8.29) (571.8,8.35) (573.5,8.12) (575.6,8.15) (577.5,7.98) (579.2,8.22) (580.9,7.88) (582.6,7.81) (584.3,7.88) (586.0,8.18) (587.6,7.81) (589.6,7.95) (591.4,8.09) (593.0,8.39) (594.8,7.95) (596.3,7.85) (597.8,8.29) (599.3,8.46) (600.8,8.15) (602.7,8.05) (604.6,7.95) (606.8,8.59) (608.5,8.18) (610.2,8.29) (611.9,8.49) (613.6,9.03) (615.3,8.97) (617.0,8.83) (618.9,9.17) (620.7,10.09) (622.1,9.17) (623.4,9.37) (624.9,9.0) (626.4,9.24) (627.7,9.71) (629.1,8.83) (630.9,8.73) (632.8,8.69) (634.7,9.61) (636.2,9.03) (637.9,9.03) (639.6,8.9) (641.2,9.54) (642.9,9.31) (644.4,8.97) (646.3,10.05) (648.6,11.17) (649.9,10.05) (651.4,10.15) (652.5,9.58) (654.0,9.68) (655.6,10.36) (657.0,9.78) (658.7,9.34) (660.4,9.58) (662.1,9.92) (663.8,10.09) (665.5,10.16) (667.2,10.05) (668.6,10.19) (669.4,11.28) (670.9,10.67) (672.3,10.87) (673.6,10.33) (675.4,11.55) (677.0,11.35) (678.5,10.63) (679.9,10.73) (681.5,11.14) (683.5,12.1) (684.9,11.28) (686.4,12.03) (688.1,11.79) (689.4,12.06) (690.5,12.67) (692.0,11.96) (693.5,11.55) (695.1,11.21) (696.5,11.96) (697.7,12.47) (698.8,11.45) (700.2,11.69) (701.6,12.03) (703.3,11.69) (705.2,11.45) (706.7,11.89) (708.2,11.89) (709.5,12.23) (711.2,12.5) (712.3,11.41) (713.8,11.59) (715.4,11.55) (717.2,12.33) (718.5,12.16) (719.9,12.23) (721.4,12.81) (722.8,11.89) (724.2,11.62) (725.3,12.2) (727.0,12.13) (728.5,11.96) (729.6,11.62) (731.2,12.23) (732.6,12.84) (734.1,11.79) (735.7,11.41) (737.5,11.62) (739.4,12.98) (740.9,11.62) (742.2,11.28) (743.6,11.41) (745.1,11.76) (746.2,10.87) (747.9,11.55) (749.6,11.55) (751.3,11.82) (753.3,12.95) (755.2,11.59) (756.3,12.03)};
% fitted
\addplot[mpink, line width=1.5pt] coordinates {
(-38,1.5) (-36.9,8.8) (-35.4,10.3) (-33.5,10.87) (-32.6,9.24) (-31.7,9.31) (-30.6,8.87) (-29.2,9.51) (-28.1,10.73) (-26.6,15.84) (-25.6,12.27) (-24.5,12.74) (-23.4,11.96) (-22.5,12.61) (-21.7,10.48) (-20.4,13.25) (-19.3,13.29) (-18.5,12.1) (-17.1,12.37) (-15.7,13.73) (-14.8,13.32) (-13.7,15.19) (-12.3,14.27) (-11.2,14.24) (-9.8,12.78) (-8.7,11.89) (-7.8,13.05) (-6.4,13.56) (-5.5,13.18) (-4.6,11.01) (-3.5,12.5) (-2.7,11.35) (-1.6,13.69) (-0.1,12.23) (1.2,11.41) (2.4,12.5) (3.3,13.05) (4.4,12.57) (5.7,12.44) (6.3,12.3) (7.1,12.98) (8.2,14.1) (9.4,12.64) (10.8,12.03) (11.9,11.96) (13.1,13.18) (14.5,13.46) (15.9,13.12) (17.0,12.78) (18.2,12.03) (19.3,13.25) (20.4,13.18) (21.5,13.18) (22.5,12.91) (23.2,12.5) (25.2,13.35) (27.0,12.61) (28.3,14.0) (29.7,13.52) (30.8,13.8) (32.0,12.74) (32.8,14.27) (34.2,14.48) (36.0,15.53) (37.1,14.14) (38.5,14.48) (39.4,15.43) (40.7,15.29) (42.1,15.12) (43.2,15.19) (44.1,14.48) (45.3,14.75) (46.4,13.46) (47.5,12.64) (48.9,12.64) (50.0,13.86) (51.5,12.98) (52.9,12.44) (54.3,12.16) (55.4,11.93) (56.3,12.54) (57.7,11.69) (59.0,11.28) (60.1,10.36) (61.6,11.82) (62.7,12.37) (63.9,13.39) (65.0,11.69) (65.8,12.84) (66.7,12.23) (67.8,12.16) (69.2,11.96) (70.6,11.69) (71.8,11.45) (72.9,11.55) (74.0,11.35) (75.2,11.62) (76.3,11.41) (77.8,11.62) (79.1,10.8) (80.5,10.15) (81.9,10.15) (83.4,10.19) (84.8,10.46) (86.1,10.19) (87.0,9.58) (88.1,9.58) (89.5,10.26) (90.4,9.92) (91.8,10.29) (92.9,9.31) (94.3,9.34) (95.5,10.67) (96.6,10.77) (97.7,10.53) (98.8,10.73) (100.9,9.78) (102.2,10.6) (103.7,9.82) (105.0,10.87) (106.2,10.94) (107.6,10.6) (108.8,10.22) (110.1,10.67) (111.2,10.46) (112.6,10.39) (113.7,10.67) (115.2,10.33) (116.7,10.33) (117.8,10.33) (119.1,11.41) (120.3,9.37) (121.6,9.31) (123.1,9.85) (124.8,10.53) (125.9,10.12) (127.3,9.78) (128.7,10.12) (130.4,10.12) (131.6,8.42) (132.9,9.44) (134.4,9.34) (135.5,8.9) (136.6,7.88) (138.1,9.24) (139.2,9.78) (140.6,8.7) (142.3,8.15) (143.7,7.61) (145.1,8.42) (146.8,9.41) (147.9,7.61) (149.4,8.35) (150.7,8.15) (152.4,8.02) (154.1,9.31) (155.5,8.83) (157.5,8.29) (158.6,9.03) (160.0,9.1) (161.1,9.51) (162.3,9.31) (164.3,8.15) (165.4,7.4) (166.8,8.7) (168.2,8.9) (169.4,8.09) (170.5,7.47) (172.2,8.83) (173.9,9.1) (175.6,7.95) (176.7,8.9) (178.1,8.83) (179.5,8.29) (181.0,7.81) (182.4,8.83) (184.0,8.63) (185.2,8.42) (187.4,7.24) (188.9,8.56) (190.2,8.49) (191.4,8.49) (193.1,8.42) (194.8,8.97) (196.5,8.76) (197.9,8.35) (199.5,8.49) (201.0,8.39) (202.7,8.22) (204.4,7.92) (205.8,8.15) (207.4,7.92) (208.9,8.29) (210.3,8.29) (211.9,8.49) (213.4,7.78) (215.1,8.29) (216.8,8.49) (218.5,8.25) (220.2,8.15) (221.9,8.22) (223.6,8.35) (225.2,7.88) (226.9,8.15) (228.6,8.09) (230.3,8.22) (232.0,8.15) (233.7,8.15) (234.5,7.71) (236.0,8.0) (237.7,8.29) (239.4,8.22) (241.1,8.35) (242.2,8.49) (243.7,8.22) (245.1,8.83) (246.2,8.29) (247.3,8.63) (249.3,7.95) (250.7,8.49) (252.4,8.56) (254.1,8.25) (255.8,8.49) (257.2,8.15) (258.8,8.83) (260.3,8.49) (262.0,8.7) (263.3,8.7) (264.8,9.37) (266.3,10.05) (267.9,9.51) (269.3,9.1) (270.8,9.65) (272.4,9.99) (274.2,9.58) (275.8,9.78) (277.2,10.05) (278.9,9.78) (280.3,10.26) (281.7,10.02) (283.2,9.54) (284.6,10.19) (285.9,10.87) (287.4,10.8) (288.9,10.33) (290.2,10.39) (291.9,10.73) (293.4,10.94) (294.9,10.73) (296.4,10.02) (298.1,11.01) (299.5,11.14) (300.9,11.82) (302.6,11.41) (304.0,10.94) (305.4,11.41) (306.6,11.76) (308.0,12.71) (309.4,11.28) (310.7,11.96) (312.6,12.1) (313.9,11.55) (315.0,11.96) (316.7,10.87) (318.2,11.55) (319.8,11.82) (321.2,12.03) (322.7,11.28) (324.3,11.69) (325.8,11.55) (327.2,11.96) (328.8,12.16) (330.6,12.44) (332.0,11.62) (333.3,12.57) (334.8,13.18) (335.9,13.39) (337.0,12.4) (338.5,13.12) (339.9,13.05) (341.2,13.46) (342.7,13.46) (344.6,13.52) (346.6,13.86) (347.8,12.91) (349.1,12.64) (350.6,12.5) (352.3,12.78) (353.4,12.84) (354.8,12.1) (356.2,12.64) (357.9,12.23) (358.8,13.18) (360.0,11.21) (361.9,12.2) (363.6,12.16) (365.3,11.82) (366.7,11.96) (367.9,11.07) (369.4,12.44) (370.9,12.23) (372.0,11.69) (373.0,11.1) (373.7,11.01) (375.2,12.23) (376.5,13.18) (377.9,13.12) (379.0,12.84) (380.1,13.46) (381.3,13.93) (382.7,13.86) (383.9,14.78) (384.6,14.75) (385.8,14.0) (387.2,14.07) (388.7,14.2) (389.8,14.54) (390.6,13.32) (392.3,12.78) (394.0,12.71) (395.1,11.62) (396.6,11.41) (398.0,13.05) (399.1,12.23) (400.0,11.82) (401.3,11.82) (402.7,12.78) (404.2,12.91) (405.6,13.05) (406.4,13.29) (407.9,12.78) (409.2,12.81) (410.6,11.69) (411.7,12.67) (413.2,12.3) (414.0,11.38) (415.5,11.55) (416.9,12.5) (418.3,13.12) (419.4,13.52) (421.1,13.05) (422.6,11.82) (423.7,12.91) (425.0,12.78) (426.7,12.37) (428.4,11.96) (429.8,11.82) (430.7,11.35) (432.4,11.96) (433.9,12.16) (435.4,11.82) (436.6,11.76) (438.0,11.96) (439.5,13.32) (440.6,13.32) (441.8,11.69) (443.1,11.62) (444.8,12.3) (446.5,13.39) (447.8,13.12) (449.0,12.71) (450.4,12.2) (451.9,12.37) (453.3,12.23) (454.6,12.1) (455.7,12.84) (456.9,12.78) (458.3,11.96) (459.5,11.96) (460.6,11.28) (462.1,11.07) (463.2,10.39) (464.6,10.6) (465.7,10.94) (467.0,10.6) (468.5,11.07) (469.3,10.19) (470.4,9.24) (471.5,9.44) (473.0,9.58) (474.1,9.37) (475.3,8.7) (476.4,9.1) (477.9,8.97) (479.2,8.22) (480.6,9.37) (482.0,9.78) (483.5,8.42) (484.9,8.69) (486.2,9.58) (487.4,8.69) (488.8,8.76) (489.9,8.63) (491.4,8.39) (492.8,8.69) (494.1,8.69) (495.9,9.71) (497.3,8.83) (498.6,9.51) (500.1,8.56) (501.6,9.51) (502.9,9.24) (504.3,9.65) (505.7,9.17) (507.2,9.71) (508.6,9.17) (509.8,9.44) (510.9,8.49) (512.0,9.24) (513.5,9.27) (514.6,8.83) (516.2,8.7) (517.7,8.97) (519.1,9.03) (520.3,7.64) (521.6,8.22) (523.3,9.1) (525.0,8.76) (526.1,8.05) (527.5,8.7) (529.0,8.97) (530.6,8.7) (532.3,8.09) (533.8,8.63) (535.4,8.97) (536.9,8.56) (538.5,8.56) (540.2,8.15) (541.9,8.02) (543.6,8.49) (545.3,8.32) (547.0,8.73) (548.7,8.35) (550.4,8.32) (552.1,8.18) (553.8,7.95) (555.3,7.58) (556.6,8.15) (558.0,8.49) (559.8,8.29) (561.3,8.05) (563.1,8.22) (564.7,8.32) (566.5,8.35) (568.1,8.15) (569.9,8.39) (571.5,8.09) (573.3,8.29) (575.2,8.15) (576.9,8.18) (578.3,7.98) (580.1,8.05) (582.0,7.88) (583.7,7.95) (585.7,8.02) (587.3,7.92) (589.1,7.78) (590.7,8.15) (592.5,8.02) (594.1,8.18) (595.9,8.02) (597.2,8.12) (598.9,8.35) (600.6,8.12) (602.0,7.95) (603.8,8.02) (605.1,7.88) (606.5,8.15) (608.3,8.49) (609.9,8.15) (611.3,8.35) (612.8,8.76) (614.4,8.83) (616.2,8.93) (617.8,8.9) (619.2,9.03) (620.9,9.78) (622.3,8.93) (624.1,9.58) (625.5,9.17) (627.1,9.61) (628.8,9.44) (630.2,8.97) (631.7,9.0) (633.4,8.63) (634.7,9.61) (636.2,9.03) (637.9,9.1) (639.6,9.03) (641.2,9.24) (642.9,9.17) (644.4,9.58) (645.8,8.83) (647.5,9.78) (648.0,9.99) (649.5,10.46) (650.8,9.85) (652.5,10.15) (654.2,9.71) (655.9,10.12) (657.6,9.99) (658.7,9.37) (659.6,8.97) (660.7,10.19) (662.1,9.58) (663.8,9.92) (665.7,9.65) (667.2,9.99) (668.6,9.85) (670.0,10.6) (671.7,10.73) (673.4,11.21) (674.5,10.12) (675.6,11.14) (676.5,12.06) (677.9,10.87) (679.6,10.53) (680.7,10.87) (682.2,11.35) (683.8,11.55) (685.6,10.8) (686.7,11.82) (687.5,12.2) (689.0,11.96) (690.1,11.96) (691.4,11.48) (692.6,12.37) (693.7,12.1) (695.1,11.31) (696.5,11.96) (698.4,12.71) (699.9,11.69) (701.4,11.31) (702.7,11.89) (704.4,12.37) (706.1,11.55) (707.8,11.89) (709.3,12.23) (710.6,11.96) (712.3,11.76) (713.8,11.82) (715.4,11.48) (716.8,11.55) (718.3,12.16) (719.4,11.96) (720.8,12.1) (722.1,12.4) (723.6,12.37) (725.1,11.82) (726.7,12.13) (728.1,12.23) (729.6,12.3) (730.7,11.24) (732.1,12.78) (733.2,12.71) (734.6,11.41) (735.7,11.69) (737.2,10.9) (738.3,11.76) (739.8,11.96) (741.1,11.01) (742.5,11.82) (743.9,11.96) (745.4,11.21) (746.2,12.47) (747.1,10.05) (748.4,11.62) (749.6,11.14) (751.0,11.41) (752.2,11.96) (753.3,11.14) (754.4,13.15) (755.6,11.69) (756.3,12.03)};
\end{axis}
\pgfresetboundingbox
\path[use as bounding box] ($(ax.south west)+(-0.53in,-0.56in)$) rectangle ($(ax.north east)+(0.15in,0.14in)$);
\end{tikzpicture}
\end{document}
